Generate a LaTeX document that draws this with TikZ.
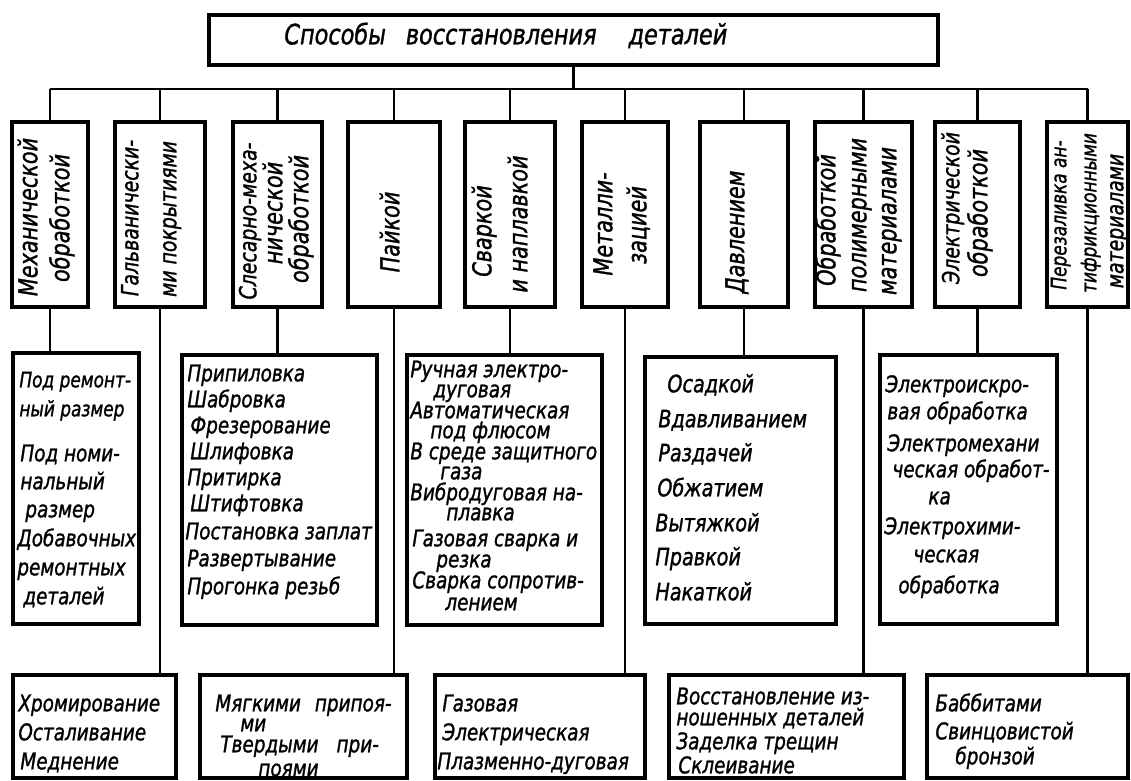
\documentclass[tikz,border=0pt]{standalone}
\usepackage{fontspec}
\newfontfamily\gost{DejaVu Sans}[UprightFont={* Oblique},FakeStretch=0.8,FakeBold=1.2]
% rectangle from its two corners (pixel-like units)
\newcommand\mkbox[5]{\node[box, minimum width={(#4-#2)*0.5pt}, minimum height={(#5-#3)*0.5pt}] (#1) at (#2,#3) {};}
\begin{document}
\begin{tikzpicture}[x=0.5pt,y=-0.5pt,
  box/.style={draw, line width=1.6pt, inner sep=0pt, outer sep=0pt, anchor=north west},
  conn/.style={line width=1.1pt},
  txt/.style={font=\gost\fontsize{11.5}{13}\selectfont, inner sep=0pt, anchor=mid west},
  smtxt/.style={txt, font=\gost\fontsize{10.6}{13}\selectfont},
  bigtxt/.style={txt, font=\gost\fontsize{12}{14}\selectfont},
  vtxt/.style={font=\gost\fontsize{13}{15}\selectfont, inner sep=0pt, anchor=mid, rotate=90},
  vsm/.style={vtxt, font=\gost\fontsize{11.8}{15}\selectfont},
  vxs/.style={vtxt, font=\gost\fontsize{10.6}{15}\selectfont},
  ttl/.style={font=\gost\fontsize{14}{16}\selectfont, inner sep=0pt, anchor=mid west}]
\useasboundingbox (0,0) rectangle (1131,781);

% root
\mkbox{root}{209}{15}{938}{65}
\node[ttl] (title) at (284,40) {Способы\hspace{10pt}восстановления\hspace{16pt}деталей};

% first level (vertical captions)
\mkbox{v1}{12}{122}{88}{307}
\mkbox{v2}{115}{122}{205}{307}
\mkbox{v3}{233}{122}{322}{307}
\mkbox{v4}{348}{122}{440}{307}
\mkbox{v5}{465}{122}{555}{307}
\mkbox{v6}{582}{122}{668}{307}
\mkbox{v7}{700}{122}{788}{307}
\mkbox{v8}{815}{122}{912}{307}
\mkbox{v9}{935}{122}{1020}{307}
\mkbox{v10}{1047}{122}{1128}{307}

\foreach \s/\x/\y/\t [count=\n] in {
  vtxt/33/217/Механической, vtxt/65/218/обработкой,
  vsm/134/218/Гальванически-, vsm/172/219/ми покрытиями,
  vsm/252/221/Слесарно-меха-, vtxt/278/213/нической, vtxt/304/219/обработкой,
  vtxt/395/232/Пайкой,
  vtxt/487/231/Сваркой, vtxt/523/224/и наплавкой,
  vtxt/608/224/Металли-, vtxt/642/225/зацией,
  vtxt/740/232/Давлением,
  vtxt/831/220/Обработкой, vtxt/862/215/полимерными, vtxt/892/221/материалами,
  vsm/955/208/Электрической, vtxt/983/213/обработкой,
  vxs/1062/215/Перезаливка ан-, vxs/1092/213/тифрикционными, vsm/1119/221/материалами}
  \node[\s] (vt\n) at (\x,\y) {\t};

% second level
\mkbox{mA}{13}{353}{139}{624}
\mkbox{mB}{182}{355}{377}{625}
\mkbox{mC}{407}{355}{602}{625}
\mkbox{mD}{645}{357}{836}{624}
\mkbox{mE}{880}{355}{1057}{624}

\foreach \s/\x/\y/\t [count=\n] in {
  smtxt/19/383/Под ремонт-, smtxt/19/412/ный размер,
  txt/20/457/Под номи-, txt/20/485/нальный, txt/25/513/размер,
  txt/17/542/Добавочных, txt/17/571/ремонтных, txt/23/600/деталей}
  \node[\s] (ma\n) at (\x,\y) {\t};

\foreach \x/\y/\t [count=\n] in {
  187/377/Припиловка, 187/403/Шабровка, 190/429/Фрезерование,
  190/455/Шлифовка, 187/481/Притирка, 190/507/Штифтовка,
  185/535/Постановка заплат, 187/562/Развертывание, 187/590/Прогонка резьб}
  \node[txt] (mb\n) at (\x,\y) {\t};

\foreach \x/\y/\t [count=\n] in {
  410/373/Ручная электро-, 433/393/дуговая,
  410/414/Автоматическая, 430/434/под флюсом,
  410/455/В среде защитного, 440/475/газа,
  410/496/Вибродуговая на-, 446/516/плавка,
  412/542/Газовая сварка и, 436/563/резка,
  412/584/Сварка сопротив-, 445/606/лением}
  \node[txt] (mc\n) at (\x,\y) {\t};

\foreach \x/\y/\t [count=\n] in {
  667/388/Осадкой, 658/423/Вдавливанием, 658/457/Раздачей,
  657/492/Обжатием, 655/527/Вытяжкой, 655/561/Правкой, 655/596/Накаткой}
  \node[bigtxt] (md\n) at (\x,\y) {\t};

\foreach \x/\y/\t [count=\n] in {
  885/388/Электроискро-, 887/415/вая обработка,
  887/447/Электромехани, 892/473/ческая обработ-, 928/500/ка,
  884/530/Электрохими-, 913/558/ческая, 898/589/обработка}
  \node[txt] (me\n) at (\x,\y) {\t};

% third level
\mkbox{b1}{13}{675}{176}{778}
\mkbox{b2}{200}{675}{407}{778}
\mkbox{b3}{435}{675}{645}{778}
\mkbox{b4}{669}{675}{904}{778}
\mkbox{b5}{927}{675}{1128}{778}

\foreach \x/\y/\t [count=\n] in {
  18/707/Хромирование, 18/736/Осталивание, 20/765/Меднение,
  215/707/Мягкими\hspace{7pt}припоя-, 240/727/ми,
  220/748/Твердыми\hspace{9pt}при-, 258/772/поями,
  442/707/Газовая, 442/736/Электрическая, 437/765/Плазменно-дуговая,
  676/700/Восстановление из-, 676/721/ношенных деталей,
  676/745/Заделка трещин, 678/769/Склеивание,
  935/707/Баббитами, 935/735/Свинцовистой, 955/760/бронзой}
  \node[txt] (bt\n) at (\x,\y) {\t};

% connectors
\coordinate (busy) at (0,89);
\coordinate (busL) at (v1.north |- busy);
\coordinate (busR) at (v10.north |- busy);
\draw[conn] (busL) -- (busR);
\draw[conn] (root.south) -- (root.south |- busy);
\foreach \i in {1,...,10}
  \draw[conn] (v\i.north) -- (v\i.north |- busy);
\foreach \a/\b in {v1/mA, v3/mB, v5/mC, v7/mD, v9/mE,
                   v2/b1, v4/b2, v6/b3, v8/b4, v10/b5}
  \draw[conn] (\a.south) -- (\a.south |- \b.north);
\end{tikzpicture}
\end{document}
